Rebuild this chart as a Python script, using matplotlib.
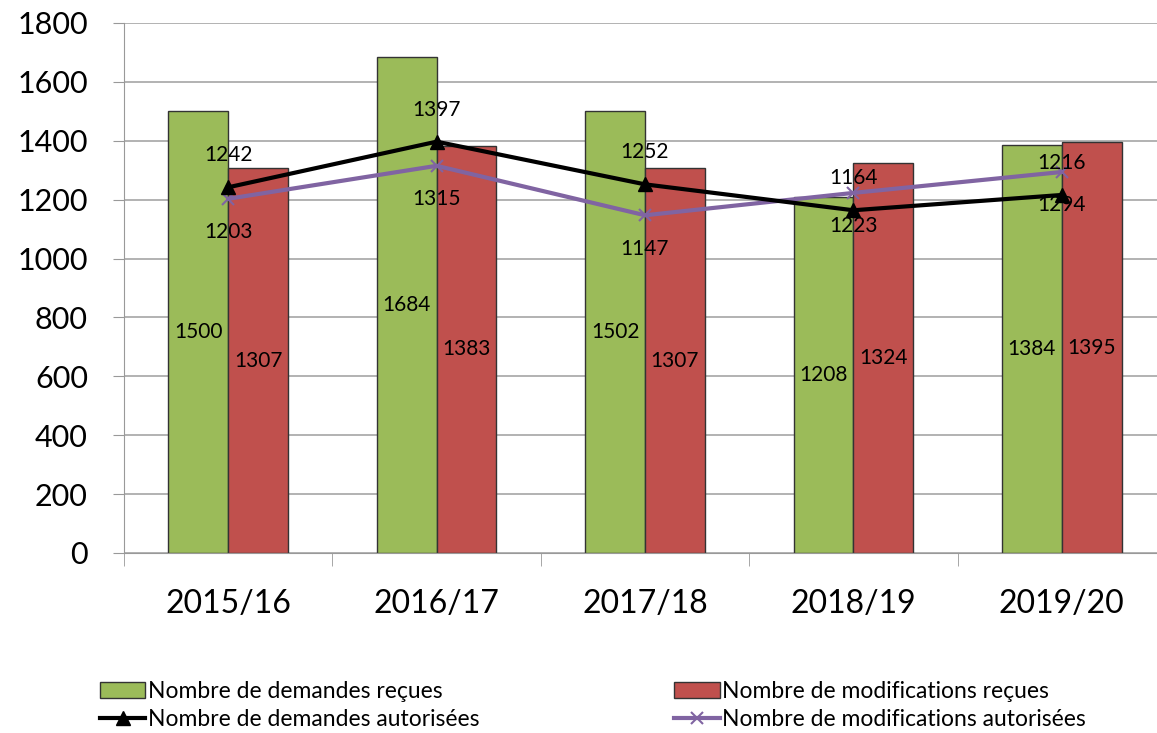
import matplotlib.pyplot as plt
import numpy as np

plt.rcParams['font.family'] = ['Lato', 'DejaVu Sans']

years = ["2015/16", "2016/17", "2017/18", "2018/19", "2019/20"]
demandes_recues = [1500, 1684, 1502, 1208, 1384]
modifs_recues = [1307, 1383, 1307, 1324, 1395]
demandes_autorisees = [1242, 1397, 1252, 1164, 1216]
modifs_autorisees = [1203, 1315, 1147, 1223, 1294]

green = "#9BBB59"
red = "#C0504D"
purple = "#8064A2"

fig = plt.figure(figsize=(11.57, 7.33), dpi=100)
ax = fig.add_axes([124 / 1157, 1 - 553 / 733, 1042 / 1157, 530 / 733])

x = np.arange(len(years))
w = 0.287

b1 = ax.bar(x - w / 2, demandes_recues, w, color=green, edgecolor="#333333",
            linewidth=1, label="Nombre de demandes reçues", zorder=2)
b2 = ax.bar(x + w / 2, modifs_recues, w, color=red, edgecolor="#333333",
            linewidth=1, label="Nombre de modifications reçues", zorder=2)
l1, = ax.plot(x, demandes_autorisees, color="black", lw=3, marker="^", ms=10,
              label="Nombre de demandes autorisées", zorder=4)
l2, = ax.plot(x, modifs_autorisees, color=purple, lw=3, marker="x", ms=9, mew=1.5,
              label="Nombre de modifications autorisées", zorder=3)

for xi, v in zip(x, demandes_recues):
    ax.text(xi - w / 2, v / 2, str(v), ha="center", va="center", fontsize=15, zorder=5)
for xi, v in zip(x, modifs_recues):
    ax.text(xi + w / 2, v / 2, str(v), ha="center", va="center", fontsize=15, zorder=5)
for xi, v in zip(x, demandes_autorisees):
    ax.annotate(str(v), (xi, v), xytext=(0, 23), textcoords="offset points",
                ha="center", va="center", fontsize=15, zorder=5)
for xi, v in zip(x, modifs_autorisees):
    ax.annotate(str(v), (xi, v), xytext=(0, -24), textcoords="offset points",
                ha="center", va="center", fontsize=15, zorder=5)

ax.set_xlim(-0.5, len(years) - 0.5)
ax.set_ylim(0, 1800)
ax.set_yticks(np.arange(0, 1801, 200))
ax.tick_params(axis="y", labelsize=22, length=8, color="#999999", pad=18)
ax.set_xticks(x)
ax.set_xticklabels(years, fontsize=23)
ax.tick_params(axis="x", length=0, pad=26)
ax.set_xticks(np.arange(-0.5, len(years), 1), minor=True)
ax.tick_params(axis="x", which="minor", length=9, color="#999999")
ax.grid(axis="y", color="#A6A6A6", lw=1.2, zorder=0)
for s in ["top", "right"]:
    ax.spines[s].set_visible(False)
ax.spines["left"].set_color("#999999")
ax.spines["bottom"].set_color("#999999")

fig.legend(handles=[b1, l1, b2, l2], loc="lower left", bbox_to_anchor=(79 / 1157, -0.024),
           ncol=2, frameon=False, fontsize=16.5, columnspacing=8.5,
           handlelength=2.0, handletextpad=0.1, labelspacing=0.3)

fig.savefig("out.png", dpi=100)
